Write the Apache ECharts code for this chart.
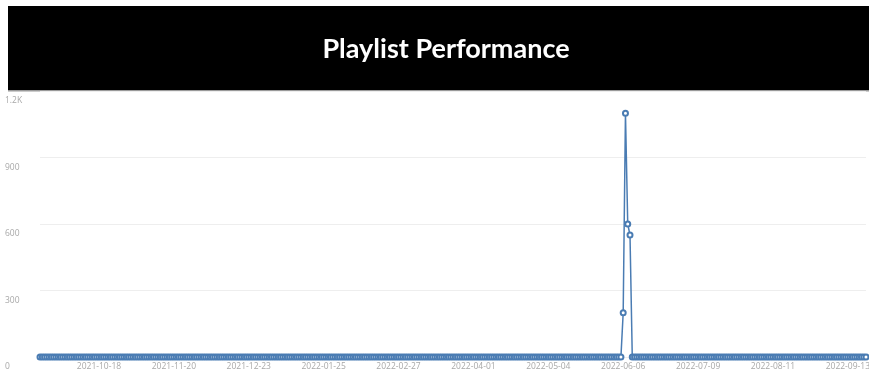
<!DOCTYPE html>
<html>
<head>
<meta charset="utf-8">
<title>Playlist Performance</title>
<script src="https://cdn.jsdelivr.net/npm/echarts@6/dist/echarts.min.js"></script>
<style>
  html, body { margin: 0; padding: 0; background: #fff; }
  #chart { width: 869px; height: 376px; }
</style>
</head>
<body>
<div id="chart"></div>
<script>
// data (one point per day)
var titleText = 'Playlist Performance';
var startDay = '2021-09-22';
var dayCount = 365;
var xTickLabels = ['2021-10-18', '2021-11-20', '2021-12-23', '2022-01-25', '2022-02-27', '2022-04-01',
                   '2022-05-04', '2022-06-06', '2022-07-09', '2022-08-11', '2022-09-13'];
var yTicks = [0, 300, 600, 900, 1200];
var yTickLabels = ['0', '300', '600', '900', '1.2K'];
var plays = [
  0,0,0,0,0,0,0,0,0,0,0,0,0,0,0,0,0,0,0,0,0,0,0,0,0,0,0,0,0,0,
  0,0,0,0,0,0,0,0,0,0,0,0,0,0,0,0,0,0,0,0,0,0,0,0,0,0,0,0,0,0,
  0,0,0,0,0,0,0,0,0,0,0,0,0,0,0,0,0,0,0,0,0,0,0,0,0,0,0,0,0,0,
  0,0,0,0,0,0,0,0,0,0,0,0,0,0,0,0,0,0,0,0,0,0,0,0,0,0,0,0,0,0,
  0,0,0,0,0,0,0,0,0,0,0,0,0,0,0,0,0,0,0,0,0,0,0,0,0,0,0,0,0,0,
  0,0,0,0,0,0,0,0,0,0,0,0,0,0,0,0,0,0,0,0,0,0,0,0,0,0,0,0,0,0,
  0,0,0,0,0,0,0,0,0,0,0,0,0,0,0,0,0,0,0,0,0,0,0,0,0,0,0,0,0,0,
  0,0,0,0,0,0,0,0,0,0,0,0,0,0,0,0,0,0,0,0,0,0,0,0,0,0,0,0,0,0,
  0,0,0,0,0,0,0,0,0,0,0,0,0,0,0,0,0,
  200,1100,600,550,
  0,0,0,0,0,0,0,0,0,0,0,0,0,0,0,0,0,0,0,0,0,0,0,0,0,0,0,0,0,0,
  0,0,0,0,0,0,0,0,0,0,0,0,0,0,0,0,0,0,0,0,0,0,0,0,0,0,0,0,0,0,
  0,0,0,0,0,0,0,0,0,0,0,0,0,0,0,0,0,0,0,0,0,0,0,0,0,0,0,0,0,0,
  0,0,0,0,0,0,0,0,0,0,0,0,0,0
];

// day labels for the category axis
var days = [];
var d0 = new Date(startDay + 'T00:00:00Z');
for (var i = 0; i < dayCount; i++) {
  days.push(new Date(d0.getTime() + i * 86400000).toISOString().slice(0, 10));
}

var lineColor = '#4a7cb3';
var labelColor = '#a8a8a8';

var myChart = echarts.init(document.getElementById('chart'));
var option = {
  backgroundColor: '#fff',
  animation: false,
  graphic: [
    {
      type: 'rect',
      shape: { x: 8, y: 6, width: 861, height: 84 },
      style: { fill: '#000' },
      z: 0
    },
    {
      type: 'rect',
      shape: { x: 8, y: 90, width: 861, height: 1.5 },
      style: { fill: '#9a9a9a' },
      z: 0
    }
  ],
  title: {
    text: titleText,
    left: 441,
    top: 44,
    textAlign: 'center',
    textVerticalAlign: 'middle',
    textStyle: {
      color: '#fff',
      fontFamily: 'Lato',
      fontWeight: 'bold',
      fontSize: 27
    },
    z: 10
  },
  grid: {
    left: 40,
    right: 3,
    top: 91,
    bottom: 19,
    outerBoundsMode: 'none'
  },
  xAxis: {
    type: 'category',
    data: days,
    boundaryGap: false,
    axisLine: { show: false },
    axisTick: { show: false },
    splitLine: { show: false },
    axisLabel: {
      interval: function (idx, val) { return xTickLabels.indexOf(val) >= 0; },
      color: labelColor,
      fontFamily: 'Open Sans',
      fontSize: 8.5,
      margin: 5,
      hideOverlap: false
    }
  },
  yAxis: {
    type: 'value',
    min: yTicks[0],
    max: yTicks[yTicks.length - 1],
    interval: 300,
    axisLine: { show: false },
    axisTick: { show: false },
    splitLine: { lineStyle: { color: '#eeeeee', width: 1 } },
    axisLabel: {
      align: 'left',
      verticalAlign: 'middle',
      margin: 35,
      formatter: function (v) { return '{t|' + yTickLabels[yTicks.indexOf(v)] + '}'; },
      rich: {
        t: {
          color: labelColor,
          fontFamily: 'Open Sans',
          fontSize: 8.5,
          padding: [20, 0, 0, 0]
        }
      }
    }
  },
  series: [
    {
      name: 'Plays',
      type: 'line',
      data: plays,
      symbol: 'emptyCircle',
      symbolSize: 5,
      showAllSymbol: true,
      lineStyle: { color: lineColor, width: 1.5 },
      itemStyle: { color: lineColor, borderColor: lineColor, borderWidth: 1.2 },
      z: 3
    }
  ]
};
myChart.setOption(option);
window.onresize = function () {
  myChart.resize();
};
</script>
</body>
</html>
